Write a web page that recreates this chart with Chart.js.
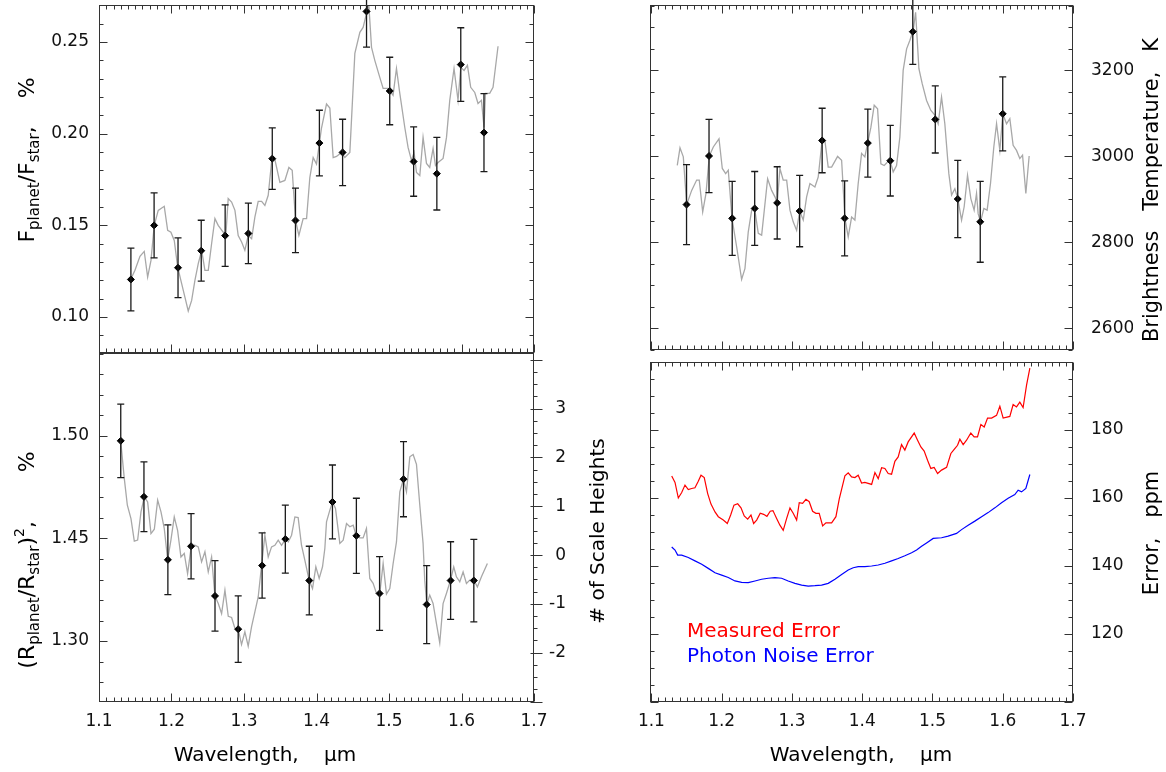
<!DOCTYPE html>
<html><head><meta charset="utf-8">
<script src="https://cdn.jsdelivr.net/npm/chart.js@4.4.1/dist/chart.umd.min.js"></script>
<style>
html,body{margin:0;padding:0;background:#fff;}
#wrap{position:relative;width:1166px;height:772px;overflow:hidden;}
canvas{position:absolute;left:0;top:0;}
</style></head><body><div id="wrap">
<canvas id="cA" width="1166" height="772"></canvas>
<canvas id="cB" width="1166" height="772"></canvas>
<canvas id="cC" width="1166" height="772"></canvas>
<canvas id="cD" width="1166" height="772"></canvas>
</div>
<script>
// ---------- tick labels ----------
const xTickValues=[1.1,1.2,1.3,1.4,1.5,1.6,1.7];
const fpTickValues=[0.10,0.15,0.20,0.25];
const rpTickValues=[1.40,1.45,1.50];
const rpTickLabels=['1.30','1.45','1.50'];
const shTickValues=[-2,-1,0,1,2,3];
const tbTickValues=[2600,2800,3000,3200];
const errTickValues=[120,140,160,180];

// ---------- top-left: eclipse depth ----------
const fpLam=[1.144,1.176,1.209,1.241,1.274,1.306,1.339,1.371,1.404,1.436,1.469,1.501,1.534,1.566,1.599,1.631];
const fpVal=[0.1205,0.1500,0.1269,0.1362,0.1444,0.1456,0.1864,0.1527,0.1949,0.1898,0.2667,0.2233,0.1848,0.1782,0.2377,0.2006];
const fpErr=[0.0171,0.0177,0.0163,0.0166,0.0168,0.0165,0.0168,0.0176,0.0179,0.0181,0.0195,0.0184,0.0189,0.0198,0.0201,0.0213];
const fpModelLam=[1.1437,1.1496,1.1565,1.1624,1.1671,1.1717,1.1762,1.1817,1.1900,1.1947,1.1992,1.2038,1.2085,1.2140,1.2185,1.2231,1.2278,1.2323,1.2369,1.2416,1.2461,1.2507,1.2553,1.2599,1.2644,1.2713,1.2751,1.2782,1.2829,1.2875,1.2920,1.2967,1.3012,1.3058,1.3105,1.3150,1.3196,1.3243,1.3288,1.3334,1.3385,1.3426,1.3495,1.3564,1.3619,1.3665,1.3711,1.3757,1.3816,1.3863,1.3908,1.3954,1.4000,1.4069,1.4138,1.4184,1.4230,1.4276,1.4345,1.4391,1.4460,1.4529,1.4598,1.4643,1.4690,1.4722,1.4759,1.4804,1.4873,1.4919,1.4987,1.5056,1.5103,1.5149,1.5218,1.5263,1.5310,1.5346,1.5379,1.5425,1.5470,1.5517,1.5562,1.5608,1.5641,1.5677,1.5746,1.5793,1.5838,1.5897,1.5952,1.5990,1.6035,1.6082,1.6127,1.6183,1.6228,1.6275,1.6311,1.6330,1.6389,1.6435,1.6504];
const fpModelVal=[0.1205,0.1255,0.1331,0.1358,0.1218,0.1309,0.1500,0.1582,0.1604,0.1473,0.1463,0.1418,0.1273,0.1182,0.1109,0.1033,0.1091,0.1200,0.1291,0.1364,0.1255,0.1255,0.1400,0.1537,0.1500,0.1463,0.1455,0.1646,0.1627,0.1582,0.1445,0.1409,0.1364,0.1445,0.1427,0.1545,0.1631,0.1631,0.1609,0.1664,0.1864,0.1859,0.1735,0.1745,0.1816,0.1800,0.1527,0.1445,0.1537,0.1537,0.1761,0.1870,0.1834,0.2031,0.2162,0.2140,0.1870,0.1876,0.1898,0.1870,0.1898,0.2438,0.2553,0.2580,0.2656,0.2700,0.2471,0.2400,0.2307,0.2247,0.2247,0.2209,0.2356,0.2220,0.2034,0.1925,0.1854,0.1898,0.1789,0.1772,0.1980,0.1838,0.1816,0.1920,0.1827,0.1843,0.1865,0.1980,0.2182,0.2356,0.2182,0.2362,0.2345,0.2373,0.2253,0.2225,0.2165,0.2182,0.2034,0.2220,0.2220,0.2253,0.2477];

// ---------- bottom-left: transit depth ----------
const rpLam=[1.130,1.162,1.195,1.227,1.260,1.292,1.325,1.357,1.390,1.422,1.455,1.487,1.520,1.552,1.585,1.617];
const rpVal=[1.4976,1.4703,1.4396,1.4462,1.4220,1.4058,1.4368,1.4497,1.4295,1.4678,1.4513,1.4232,1.4789,1.4178,1.4295,1.4295];
const rpErr=[0.0179,0.0170,0.0170,0.0159,0.0172,0.0162,0.0159,0.0166,0.0167,0.0180,0.0183,0.0180,0.0183,0.0190,0.0189,0.0201];
const rpModelLam=[1.1299,1.1349,1.1391,1.1441,1.1487,1.1533,1.1579,1.1625,1.1671,1.1717,1.1763,1.1809,1.1855,1.1900,1.1947,1.1992,1.2038,1.2084,1.2130,1.2176,1.2222,1.2273,1.2323,1.2369,1.2415,1.2461,1.2507,1.2553,1.2599,1.2645,1.2691,1.2737,1.2783,1.2829,1.2875,1.2920,1.2966,1.3012,1.3058,1.3104,1.3150,1.3196,1.3242,1.3288,1.3334,1.3380,1.3426,1.3472,1.3518,1.3573,1.3610,1.3656,1.3702,1.3747,1.3793,1.3839,1.3899,1.3945,1.3991,1.4037,1.4083,1.4115,1.4138,1.4184,1.4221,1.4262,1.4322,1.4368,1.4414,1.4460,1.4506,1.4547,1.4598,1.4643,1.4689,1.4735,1.4781,1.4827,1.4873,1.4919,1.4965,1.5011,1.5057,1.5103,1.5149,1.5199,1.5241,1.5287,1.5333,1.5379,1.5425,1.5470,1.5493,1.5521,1.5562,1.5608,1.5654,1.5700,1.5746,1.5792,1.5847,1.5893,1.5930,1.5976,1.6022,1.6068,1.6114,1.6173,1.6219,1.6275,1.6357];
const rpModelVal=[1.4976,1.4792,1.4662,1.4597,1.4487,1.4492,1.4630,1.4703,1.4678,1.4524,1.4545,1.4687,1.4630,1.4549,1.4396,1.4492,1.4605,1.4540,1.4410,1.4427,1.4329,1.4462,1.4467,1.4459,1.4386,1.4435,1.4337,1.4410,1.4220,1.4183,1.4134,1.4248,1.4121,1.4115,1.4061,1.4058,1.3983,1.4045,1.3975,1.4069,1.4142,1.4215,1.4368,1.4516,1.4410,1.4459,1.4467,1.4492,1.4467,1.4497,1.4483,1.4516,1.4605,1.4602,1.4467,1.4394,1.4295,1.4256,1.4362,1.4305,1.4362,1.4451,1.4581,1.4638,1.4678,1.4646,1.4476,1.4492,1.4573,1.4557,1.4565,1.4513,1.4503,1.4503,1.4549,1.4305,1.4281,1.4232,1.4232,1.4378,1.4229,1.4256,1.4378,1.4483,1.4727,1.4789,1.4727,1.4898,1.4909,1.4861,1.4662,1.4476,1.4297,1.4178,1.4224,1.4183,1.4086,1.3991,1.4183,1.4232,1.4295,1.4362,1.4313,1.4289,1.4337,1.4281,1.4297,1.4295,1.4264,1.4313,1.4378];

// ---------- top-right: brightness temperature ----------
const tbLam=[1.150,1.182,1.215,1.247,1.279,1.311,1.343,1.375,1.408,1.440,1.472,1.504,1.536,1.568,1.600];
const tbVal=[2888,3001,2856,2879,2892,2873,3037,2856,3031,2990,3290,3086,2901,2848,3099];
const tbErr=[93,85,86,86,84,83,75,87,79,82,76,78,90,94,86];
const tbModelLam=[1.1368,1.1407,1.1454,1.1502,1.1573,1.1644,1.1681,1.1730,1.1777,1.1824,1.1881,1.1962,1.2009,1.2057,1.2094,1.2147,1.2213,1.2284,1.2331,1.2378,1.2427,1.2469,1.2521,1.2569,1.2654,1.2711,1.2758,1.2791,1.2829,1.2876,1.2925,1.2972,1.3018,1.3067,1.3110,1.3161,1.3209,1.3256,1.3327,1.3374,1.3431,1.3469,1.3516,1.3565,1.3650,1.3707,1.3754,1.3801,1.3849,1.3896,1.3943,1.3991,1.4038,1.4077,1.4124,1.4171,1.4219,1.4266,1.4313,1.4361,1.4398,1.4441,1.4489,1.4536,1.4583,1.4632,1.4679,1.4726,1.4760,1.4807,1.4854,1.4916,1.4977,1.5034,1.5081,1.5129,1.5176,1.5233,1.5272,1.5319,1.5361,1.5414,1.5451,1.5499,1.5546,1.5593,1.5627,1.5650,1.5684,1.5731,1.5778,1.5826,1.5873,1.5912,1.5959,1.6001,1.6054,1.6101,1.6148,1.6196,1.6243,1.6282,1.6329,1.6376];
const tbModelVal=[2979,3020,2999,2888,2921,2945,2945,2871,2914,3001,3022,3041,2972,2960,2968,2856,2790,2714,2739,2824,2875,2879,2821,2817,2948,2921,2906,2892,2972,2945,2945,2875,2848,2828,2873,2852,2906,2937,2929,2952,3040,3037,2975,2975,3000,2991,2856,2813,2859,2852,2937,3007,2999,3031,3068,3119,3111,2983,2979,2987,2990,2964,2979,3045,3200,3250,3270,3293,3335,3204,3169,3130,3107,3096,3076,3138,3076,2960,2910,2925,2901,2852,2883,2956,2902,2875,2914,2867,2848,2879,2875,2937,3022,3076,3014,3099,3076,3088,3026,3014,2995,3003,2914,3001];

// ---------- bottom-right: errors ----------
const measLam=[1.1289,1.1336,1.1383,1.1431,1.1478,1.1525,1.1573,1.1620,1.1667,1.1706,1.1752,1.1801,1.1848,1.1905,1.1952,1.2023,1.2080,1.2128,1.2175,1.2228,1.2275,1.2321,1.2370,1.2417,1.2455,1.2498,1.2549,1.2597,1.2644,1.2691,1.2730,1.2782,1.2829,1.2876,1.2925,1.2972,1.3018,1.3067,1.3104,1.3152,1.3199,1.3246,1.3294,1.3341,1.3388,1.3437,1.3484,1.3565,1.3626,1.3673,1.3754,1.3801,1.3849,1.3896,1.3943,1.3991,1.4038,1.4134,1.4181,1.4228,1.4276,1.4323,1.4370,1.4418,1.4465,1.4512,1.4560,1.4607,1.4654,1.4740,1.4788,1.4835,1.4882,1.4930,1.4977,1.5024,1.5073,1.5129,1.5201,1.5262,1.5309,1.5357,1.5390,1.5437,1.5485,1.5546,1.5593,1.5641,1.5689,1.5736,1.5784,1.5841,1.5912,1.5959,1.6006,1.6101,1.6148,1.6196,1.6243,1.6290,1.6339,1.6386];
const measVal=[166.5,164.6,160.0,161.6,163.8,162.5,162.8,163.0,164.9,166.7,166.0,161.3,158.2,155.9,154.5,153.5,152.5,155.0,157.9,158.3,157.1,154.7,153.8,155.0,152.5,153.5,155.5,155.2,154.6,156.1,156.3,154.0,152.0,150.5,154.0,157.1,155.5,153.5,158.6,158.4,159.6,158.9,156.1,155.5,155.5,151.8,152.7,152.7,154.5,159.7,166.5,167.4,166.2,166.0,166.7,164.4,164.6,164.0,167.5,165.7,168.9,168.7,167.2,167.0,170.8,172.1,175.7,174.1,176.5,179.1,177.0,175.0,173.8,171.1,168.7,169.0,167.2,168.2,169.0,173.1,174.3,175.5,177.3,175.7,177.0,179.1,178.0,178.0,181.6,180.9,183.5,183.5,184.3,187.0,183.5,184.0,187.5,186.8,188.2,186.6,193.2,198.2];
const photLam=[1.1289,1.1336,1.1374,1.1431,1.1525,1.1620,1.1716,1.1809,1.1905,1.2000,1.2094,1.2189,1.2284,1.2378,1.2474,1.2569,1.2663,1.2758,1.2853,1.2947,1.3043,1.3138,1.3232,1.3327,1.3422,1.3516,1.3612,1.3707,1.3801,1.3872,1.3943,1.4038,1.4134,1.4228,1.4323,1.4418,1.4512,1.4607,1.4703,1.4774,1.4845,1.4916,1.5010,1.5129,1.5223,1.5343,1.5414,1.5508,1.5603,1.5699,1.5792,1.5888,1.5983,1.6077,1.6172,1.6219,1.6268,1.6329,1.6386];
const photVal=[145.6,144.7,143.2,143.2,142.5,141.5,140.5,139.3,138.0,137.3,136.6,135.6,135.2,135.1,135.6,136.1,136.4,136.6,136.4,135.6,134.9,134.4,134.1,134.2,134.4,134.9,136.1,137.5,138.8,139.5,139.8,139.8,140.0,140.3,140.8,141.5,142.2,143.0,143.9,144.7,145.8,146.8,148.1,148.3,148.8,149.6,150.7,152.0,153.2,154.5,155.7,157.1,158.6,159.9,161.0,162.3,161.8,162.8,166.9];

// ---------- helpers ----------
const FONT='DejaVu Sans';
const pts=(xs,ys)=>xs.map((x,i)=>({x:x,y:ys[i]}));
const specs={};

function drawRich(ctx,cx,cy,segs,base,sx,color){
  ctx.save();
  ctx.translate(cx,cy);ctx.rotate(-Math.PI/2);ctx.scale(sx||1,1);
  let total=0;
  segs.forEach(s=>{ctx.font=(s.size||base)+'px "'+FONT+'"';s._w=ctx.measureText(s.t).width;total+=s._w;});
  let x=-total/2;
  ctx.fillStyle=color||'#000';ctx.textAlign='left';ctx.textBaseline='alphabetic';
  const by=base*0.36;
  segs.forEach(s=>{ctx.font=(s.size||base)+'px "'+FONT+'"';ctx.fillText(s.t,x,by+(s.dy||0));x+=s._w;});
  ctx.restore();
}

const customPlugin={
  id:'custom',
  afterDatasetsDraw(chart){
    const sp=specs[chart.canvas.id];const ctx=chart.ctx;
    if(sp.err){
      const e=sp.err;const xs=chart.scales.x, ys=chart.scales[e.axis];
      ctx.save();ctx.strokeStyle='#1a1a1a';ctx.lineWidth=1.3;
      e.lam.forEach((l,i)=>{
        const px=xs.getPixelForValue(l);
        const y1=ys.getPixelForValue(e.val[i]+e.err[i]);
        const y2=ys.getPixelForValue(e.val[i]-e.err[i]);
        ctx.beginPath();
        ctx.moveTo(px,y1);ctx.lineTo(px,y2);
        ctx.moveTo(px-3.5,y1);ctx.lineTo(px+3.5,y1);
        ctx.moveTo(px-3.5,y2);ctx.lineTo(px+3.5,y2);
        ctx.stroke();
      });
      ctx.restore();
    }
  },
  afterDraw(chart){
    const sp=specs[chart.canvas.id];const ctx=chart.ctx;const a=chart.chartArea;
    const L=Math.round(a.left)+0.5,R=Math.round(a.right)-0.5,T=Math.round(a.top)+0.5,B=Math.round(a.bottom)-0.5;
    ctx.save();ctx.strokeStyle='#333';ctx.lineWidth=1;
    ctx.strokeRect(L,T,R-L,B-T);
    sp.ticks.forEach(s=>{
      const sc=chart.scales[s.scale];
      const k0=Math.ceil(sc.min/s.minor-1e-6),k1=Math.floor(sc.max/s.minor+1e-6);
      for(let k=k0;k<=k1;k++){
        const v=k*s.minor;const r=v/s.major;const maj=Math.abs(r-Math.round(r))<1e-6;
        const len=maj?8:4;const p=Math.round(sc.getPixelForValue(v))+0.5;
        s.sides.forEach(side=>{
          ctx.beginPath();
          if(side==='bottom'){ctx.moveTo(p,B);ctx.lineTo(p,B-len);}
          else if(side==='top'){ctx.moveTo(p,T);ctx.lineTo(p,T+len);}
          else if(side==='left'){ctx.moveTo(L,p);ctx.lineTo(L+len,p);}
          else if(side==='right'){ctx.moveTo(R,p);ctx.lineTo(R-len,p);}
          else if(side==='rightOut'){ctx.moveTo(R-(maj?3:0),p);ctx.lineTo(R+(maj?9:4),p);}
          ctx.stroke();
        });
      }
    });
    ctx.restore();
    (sp.texts||[]).forEach(t=>{
      if(t.rot){drawRich(ctx,t.x,t.y,t.segs,t.size,t.sx,t.color);}
      else{ctx.save();ctx.font=t.size+'px "'+FONT+'"';ctx.fillStyle=t.color||'#000';ctx.textAlign=t.align||'center';ctx.textBaseline='alphabetic';ctx.fillText(t.text,t.x,t.y);ctx.restore();}
    });
  }
};

function zeroPad(s){s.paddingTop=0;s.paddingBottom=0;s.paddingLeft=0;s.paddingRight=0;}
function xScale(show,min){
  return {type:'linear',position:'bottom',min:min,max:1.7,
    afterBuildTicks:s=>{s.ticks=xTickValues.map(v=>({value:v}));},
    ticks:{display:show,autoSkip:false,maxRotation:0,minRotation:0,padding:9,color:'#111',font:{family:FONT,size:17},callback:v=>v.toFixed(1)},
    grid:{display:false,drawTicks:false},border:{display:false},
    afterFit:s=>{s.height=show?40:0;zeroPad(s);}};
}
function yScale(pos,min,max,vals,cb,width,pad,cross){
  return {type:'linear',position:pos,min:min,max:max,
    afterBuildTicks:s=>{s.ticks=vals.map(v=>({value:v}));},
    ticks:{display:true,autoSkip:false,padding:pad,crossAlign:cross||'near',color:'#111',font:{family:FONT,size:17},callback:cb},
    grid:{display:false,drawTicks:false},border:{display:false},
    afterFit:s=>{s.width=width;zeroPad(s);}};
}
function baseOpts(pad,scales){
  return {responsive:false,animation:false,devicePixelRatio:1,events:[],
    layout:{padding:pad},
    plugins:{legend:{display:false},tooltip:{enabled:false},title:{display:false}},
    scales:scales};
}
const sub=(t)=>({t:t,size:15,dy:5});

// ---------- chart A (top-left) ----------
specs.cA={err:{lam:fpLam,val:fpVal,err:fpErr,axis:'y'},
  ticks:[{scale:'x',major:0.1,minor:0.01,sides:['top','bottom']},{scale:'y',major:0.05,minor:0.01,sides:['left','right']}],
  texts:[{rot:true,x:26,y:160,size:22,segs:[{t:'F'},sub('planet'),{t:'/F'},sub('star'),{t:',    %'}]}]};
new Chart(document.getElementById('cA'),{type:'scatter',
  data:{datasets:[
    {data:pts(fpLam,fpVal),pointStyle:'rectRot',pointRadius:3.5,backgroundColor:'#000',borderColor:'#000',borderWidth:1,order:0},
    {data:pts(fpModelLam,fpModelVal),showLine:true,pointRadius:0,borderColor:'#a8a8a8',borderWidth:1.3,order:1}]},
  options:baseOpts({left:39,right:632,top:5,bottom:419},{
    x:xScale(false,1.1),
    y:yScale('left',0.0804,0.2702,fpTickValues,v=>v.toFixed(2),60,10)}),
  plugins:[customPlugin]});

// ---------- chart B (bottom-left) ----------
specs.cB={err:{lam:rpLam,val:rpVal,err:rpErr,axis:'y'},
  ticks:[{scale:'x',major:0.1,minor:0.01,sides:['bottom']},{scale:'y',major:0.05,minor:0.01,sides:['left']},{scale:'y2',major:1,minor:0.25,sides:['rightOut']}],
  texts:[
    {rot:true,x:26,y:560,size:22,segs:[{t:'(R'},sub('planet'),{t:'/R'},sub('star'),{t:')'},{t:'2',size:14,dy:-10},{t:',       %'}]},
    {rot:true,x:597,y:531,size:20,segs:[{t:'# of Scale Heights'}]},
    {x:265,y:761,size:20,text:'Wavelength,    µm'}]};
new Chart(document.getElementById('cB'),{type:'scatter',
  data:{datasets:[
    {data:pts(rpLam,rpVal),pointStyle:'rectRot',pointRadius:3.5,backgroundColor:'#000',borderColor:'#000',borderWidth:1,order:0},
    {data:pts(rpModelLam,rpModelVal),showLine:true,pointRadius:0,borderColor:'#a8a8a8',borderWidth:1.3,order:1}]},
  options:baseOpts({left:39,right:600,top:353,bottom:30},{
    x:xScale(true,1.1),
    y:yScale('left',1.3703,1.5404,rpTickValues,(v,i)=>rpTickLabels[i],60,10),
    y2:yScale('right',-3.01,4.14,shTickValues,v=>String(v),32,4,'far')}),
  plugins:[customPlugin]});

// ---------- chart C (top-right) ----------
specs.cC={err:{lam:tbLam,val:tbVal,err:tbErr,axis:'y'},
  ticks:[{scale:'x',major:0.1,minor:0.01,sides:['top','bottom']},{scale:'y',major:200,minor:50,sides:['left','right']}],
  texts:[{rot:true,x:1150,y:190,size:22,sx:0.95,segs:[{t:'Brightness   Temperature,   K'}]}]};
new Chart(document.getElementById('cC'),{type:'scatter',
  data:{datasets:[
    {data:pts(tbLam,tbVal),pointStyle:'rectRot',pointRadius:3.5,backgroundColor:'#000',borderColor:'#000',borderWidth:1,order:0},
    {data:pts(tbModelLam,tbModelVal),showLine:true,pointRadius:0,borderColor:'#a8a8a8',borderWidth:1.3,order:1}]},
  options:baseOpts({left:650,right:33,top:5,bottom:422},{
    x:xScale(false,1.098),
    y:yScale('right',2550,3352,tbTickValues,v=>String(v),60,18)}),
  plugins:[customPlugin]});

// ---------- chart D (bottom-right) ----------
specs.cD={
  ticks:[{scale:'x',major:0.1,minor:0.01,sides:['top','bottom']},{scale:'y',major:20,minor:5,sides:['left','right']}],
  texts:[
    {rot:true,x:1150,y:533,size:22,sx:0.95,segs:[{t:'Error,   ppm'}]},
    {x:861,y:761,size:20,text:'Wavelength,    µm'},
    {x:687,y:637,size:20,align:'left',color:'#ff0000',text:'Measured Error'},
    {x:687,y:662,size:20,align:'left',color:'#0000ff',text:'Photon Noise Error'}]};
new Chart(document.getElementById('cD'),{type:'scatter',
  data:{datasets:[
    {data:pts(measLam,measVal),showLine:true,pointRadius:0,borderColor:'#ff0000',borderWidth:1.2,order:0},
    {data:pts(photLam,photVal),showLine:true,pointRadius:0,borderColor:'#0000ff',borderWidth:1.2,order:1}]},
  options:baseOpts({left:650,right:33,top:362,bottom:30},{
    x:xScale(true,1.098),
    y:yScale('right',100,200,errTickValues,v=>String(v),60,18)}),
  plugins:[customPlugin]});
</script>
</body></html>
